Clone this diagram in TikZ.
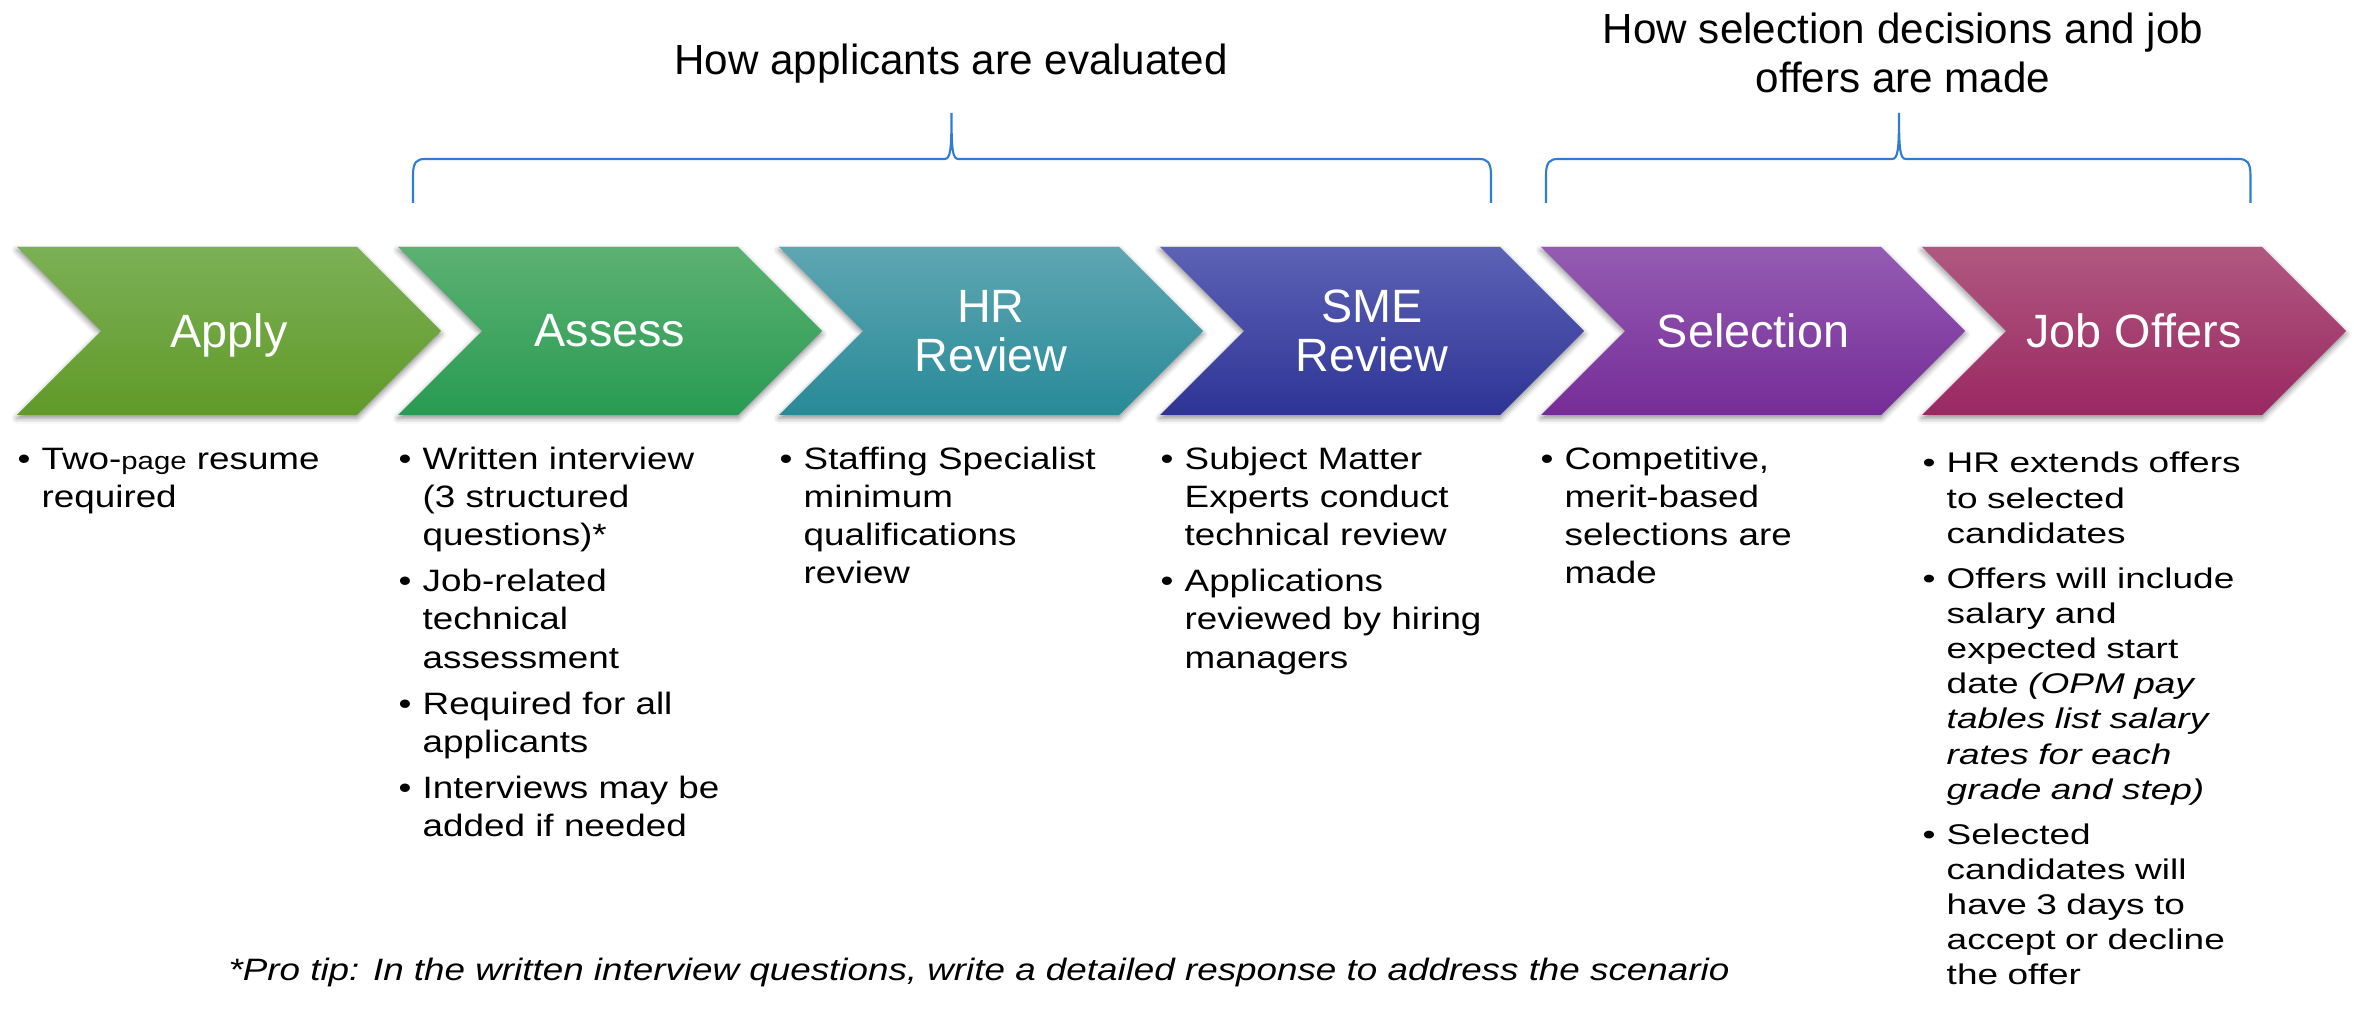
\documentclass[tikz,border=0pt]{standalone}
\usepackage{fontspec}
\setmainfont{Liberation Sans}
\newfontfamily\bodyfont[FakeStretch=1.19]{Liberation Sans}
\newfontfamily\offerfont[FakeStretch=1.3]{Liberation Sans}
\usetikzlibrary{
  shapes,        % "signal" shape for the chevrons
  shadows.blur,  % soft shadow under the chevrons
}
\definecolor{applytop}{RGB}{124,176,86}
\definecolor{applybot}{RGB}{96,154,40}
\definecolor{assesstop}{RGB}{92,177,114}
\definecolor{assessbot}{RGB}{40,155,82}
\definecolor{hrtop}{RGB}{94,166,178}
\definecolor{hrbot}{RGB}{40,138,152}
\definecolor{smetop}{RGB}{92,98,180}
\definecolor{smebot}{RGB}{46,52,150}
\definecolor{seltop}{RGB}{148,92,178}
\definecolor{selbot}{RGB}{118,44,152}
\definecolor{offertop}{RGB}{176,88,128}
\definecolor{offerbot}{RGB}{154,40,98}
\definecolor{bracecol}{RGB}{46,124,214}
\newlength{\bulind}
\setlength{\bulind}{0.24cm}
% bullet point, lines after the first hang behind the bullet
% (\firstbul opens the list, \bul starts every later point)
\newcommand{\firstbul}{\hangindent=\bulind\hangafter=1\noindent\makebox[\bulind][l]{\textbullet}}
\newcommand{\bul}{\par\firstbul}
% curly bracket lying on its back: left x, tip x, right x
\newcommand{\hbrace}[3]{
  \draw[brace line] (#1,-2.03) -- (#1,-1.75)
    .. controls (#1,-1.62) and ({#1+0.04},-1.59) .. ({#1+0.12},-1.59)
    -- ({#2-0.07},-1.59)
    .. controls ({#2-0.01},-1.59) and (#2,-1.50) .. (#2,-1.13)
    .. controls (#2,-1.50) and ({#2+0.01},-1.59) .. ({#2+0.07},-1.59)
    -- ({#3-0.12},-1.59)
    .. controls ({#3-0.04},-1.59) and (#3,-1.62) .. (#3,-1.75)
    -- (#3,-2.03);
}
\tikzset{
  stage/.style={
    shape=signal,
    signal to=east,
    signal from=west,
    signal pointer angle=90,
    minimum width=4.24cm,
    minimum height=1.68cm,
    inner sep=0pt,
    text=white,
    align=center,
    font=\fontsize{13.3}{13.8}\selectfont,
    blur shadow={shadow xshift=0pt,shadow yshift=-0.9pt,
      shadow blur radius=1.6pt,shadow opacity=45}
  },
  notes/.style={
    anchor=base west,
    text width=3.6cm,
    align=left,
    inner sep=0pt,
    font=\bodyfont\fontsize{8.8}{10.9}\selectfont,
    execute at begin node={\setlength{\parskip}{2.2pt}}
  },
  offer notes/.style={
    notes,
    text width=3.8cm,
    font=\offerfont\fontsize{8.1}{10}\selectfont,
    execute at begin node={\setlength{\parskip}{2.8pt}}
  },
  heading/.style={
    anchor=base,
    align=center,
    inner sep=0pt,
    font=\fontsize{12}{14.1}\selectfont
  },
  brace line/.style={
    draw=bracecol,
    line width=0.6pt
  }
}

\begin{document}
\begin{tikzpicture}
\useasboundingbox (0,0) rectangle (23.54,-10.25);

% the six steps
\node[stage,top color=applytop,bottom color=applybot,text depth=0pt]
  (apply) at (2.29,-3.31) {Apply};
\node[stage,top color=assesstop,bottom color=assessbot]
  (assess) at (6.10,-3.31) {Assess};
\node[stage,top color=hrtop,bottom color=hrbot]
  (hr) at (9.91,-3.31) {HR\\Review};
\node[stage,top color=smetop,bottom color=smebot]
  (sme) at (13.72,-3.31) {SME\\Review};
\node[stage,top color=seltop,bottom color=selbot]
  (select) at (17.53,-3.31) {Selection};
\node[stage,top color=offertop,bottom color=offerbot]
  (offers) at (21.34,-3.31) {Job Offers};

% what happens in each step
\node[notes] (applytxt) at (0.17,-4.69) {\firstbul
  Two-{\fontsize{7}{10.9}\selectfont page} resume\newline required\par};
\node[notes] (assesstxt) at (3.98,-4.69) {\firstbul
  Written interview\newline (3 structured\newline questions)*
  \bul Job-related\newline technical\newline assessment
  \bul Required for all\newline applicants
  \bul Interviews may be\newline added if needed\par};
\node[notes] (hrtxt) at (7.79,-4.69) {\firstbul
  Staffing Specialist\newline minimum\newline qualifications\newline review\par};
\node[notes] (smetxt) at (11.60,-4.69) {\firstbul
  Subject Matter\newline Experts conduct\newline technical review
  \bul Applications\newline reviewed by hiring\newline managers\par};
\node[notes] (selecttxt) at (15.40,-4.69) {\firstbul
  Competitive,\newline merit-based\newline selections are\newline made\par};
\node[offer notes] (offerstxt) at (19.22,-4.73) {\firstbul
  HR extends offers\newline to selected\newline candidates
  \bul Offers will include\newline salary and\newline expected start\newline
    date \textit{(OPM pay\newline tables list salary\newline rates for each\newline grade and step)}
  \bul Selected\newline candidates will\newline have 3 days to\newline accept or decline\newline the offer\par};

% the two phases
\hbrace{4.13}{9.515}{14.91}
\hbrace{15.46}{18.99}{22.505}
\node[heading] (evalhead) at (9.51,-0.75) {How applicants are evaluated};
\node[heading] (decidehead) at (19.03,-0.93) {How selection decisions and job\\offers are made};

\node[anchor=base,inner sep=0pt,font=\bodyfont\itshape\fontsize{8.8}{10.9}\selectfont]
  (tip) at (9.79,-9.80)
  {*Pro tip: In the written interview questions, write a detailed response to address the scenario};
\end{tikzpicture}
\end{document}
